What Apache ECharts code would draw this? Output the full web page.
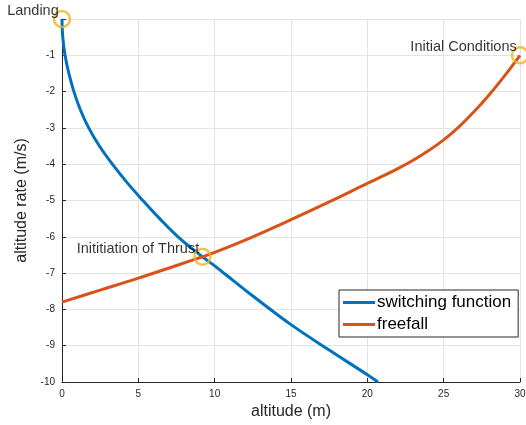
<!DOCTYPE html>
<html>
<head>
<meta charset="utf-8">
<script src="https://cdn.jsdelivr.net/npm/echarts@6/dist/echarts.min.js"></script>
<style>
  html, body { margin: 0; padding: 0; background: #fff; }
  #main { width: 526px; height: 425px; }
</style>
</head>
<body>
<div id="main"></div>
<script>
    // switching function
    var switchX = [0, 0.05, 0.2, 0.45, 0.78, 1.2, 1.75, 2.45, 3.3, 4.25, 5.3, 6.4, 7.6, 9.2, 10, 11.2, 12.5, 15, 17.5, 20, 20.7];
    var switchY = [0, -0.5, -1.0, -1.5, -2.0, -2.5, -3.0, -3.5, -4.0, -4.5, -5.0, -5.5, -6.0, -6.55, -6.8, -7.2, -7.63, -8.42, -9.12, -9.8, -10.0];

    // freefall trajectory
    var fallX = [0, 2.5, 5, 7.5, 9.2, 10, 12.5, 15, 17.5, 20, 21, 22, 23, 24, 25, 26, 27, 28, 29, 30];
    var fallY = [-7.8, -7.47, -7.14, -6.79, -6.55, -6.43, -6.0, -5.53, -5.04, -4.53, -4.33, -4.12, -3.89, -3.63, -3.33, -2.97, -2.55, -2.08, -1.56, -1.0];

    // marked events
    var eventNames = ['Landing', 'Inititiation of Thrust', 'Initial Conditions'];
    var eventX = [0, 9.2, 30];
    var eventY = [0, -6.55, -1.0];

    function pairs(xs, ys) {
        return xs.map(function (x, i) { return [x, ys[i]]; });
    }

    var font = 'Liberation Sans, Arial, Helvetica, sans-serif';
    var axisColor = '#262626';

    var myChart = echarts.init(document.getElementById('main'));
    option = {
        animation: false,
        textStyle: { fontFamily: font },
        grid: { left: 62, right: 6, top: 19, bottom: 43, containLabel: false, outerBoundsMode: 'none' },
        legend: {
          data: ['switching function', 'freefall'],
          orient: 'vertical',
          left: 339,
          top: 290,
          padding: [4, 7, 4, 4],
          itemGap: 5,
          itemWidth: 32,
          itemHeight: 3,
          icon: 'rect',
          borderColor: '#262626',
          borderWidth: 1,
          backgroundColor: '#fff',
          textStyle: { fontSize: 17, color: '#000', fontFamily: font, padding: [0, 0, 0, -3] }
        },
        xAxis: {
          type: 'value',
          min: 0,
          max: 30,
          interval: 5,
          name: 'altitude (m)',
          nameLocation: 'middle',
          nameGap: 22,
          nameTextStyle: { fontSize: 16, color: axisColor },
          axisLine: { onZero: false, lineStyle: { color: axisColor } },
          axisTick: { inside: true, length: 4, lineStyle: { color: axisColor } },
          axisLabel: { fontSize: 10, color: axisColor, margin: 7 },
          splitLine: { show: true, lineStyle: { color: '#e3e3e3' } }
        },
        yAxis: {
          type: 'value',
          min: -10,
          max: 0,
          interval: 1,
          name: 'altitude rate (m/s)',
          nameLocation: 'middle',
          nameGap: 27,
          nameTextStyle: { fontSize: 16, color: axisColor },
          axisLine: { show: true, onZero: false, lineStyle: { color: axisColor } },
          axisTick: { show: true, inside: true, length: 4, lineStyle: { color: axisColor } },
          axisLabel: { fontSize: 10, color: axisColor, margin: 7,
                       formatter: function (v) { return v === 0 ? '' : v; } },
          splitLine: { show: true, lineStyle: { color: '#e3e3e3' } }
        },
        series: [
          {
            name: 'switching function',
            type: 'line',
            data: pairs(switchX, switchY),
            smooth: 0.4,
            showSymbol: false,
            color: '#0072BD',
            lineStyle: { width: 3 }
          },
          {
            name: 'freefall',
            type: 'line',
            data: pairs(fallX, fallY),
            smooth: 0.4,
            showSymbol: false,
            color: '#D95319',
            lineStyle: { width: 3 }
          },
          {
            name: 'events',
            type: 'scatter',
            data: eventX.map(function (x, i) { return [x, eventY[i], eventNames[i]]; }),
            symbol: 'circle',
            symbolSize: 16,
            clip: false,
            z: 5,
            itemStyle: { color: 'rgba(0,0,0,0)', borderColor: '#EDB120', borderWidth: 2.5 },
            label: {
              show: true,
              position: 'left',
              distance: -6,
              offset: [0, -8],
              fontSize: 14.5,
              color: '#000',
              formatter: function (p) { return p.data[2]; }
            }
          }
        ]
    };
    myChart.setOption(option);
</script>
</body>
</html>
